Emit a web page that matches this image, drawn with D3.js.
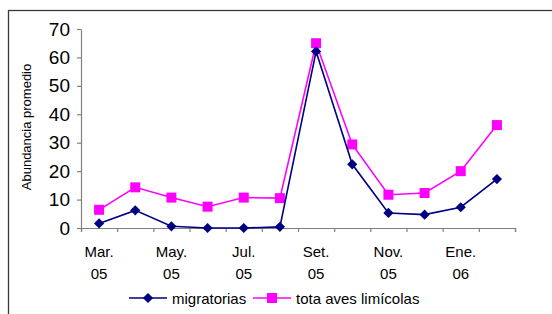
<!DOCTYPE html>
<html>
<head>
<meta charset="utf-8">
<script src="https://cdn.jsdelivr.net/npm/d3@7"></script>
<style>
  body { margin:0; background:#fff; }
  svg { display:block; font-family:"Liberation Sans", Arial, sans-serif; }
</style>
</head>
<body>
<svg id="chart" width="552" height="314"></svg>
<script>
// -- data
var months = ["Mar.","Abr.","May.","Jun.","Jul.","Ago.","Set.","Oct.","Nov.","Dic.","Ene.","Feb."];
var years  = ["05","05","05","05","05","05","05","05","05","05","06","06"];
var migratorias = [1.6, 6.2, 0.6, 0, 0, 0.4, 62.1, 22.4, 5.3, 4.7, 7.3, 17.2];
var totaLimicolas = [6.4, 14.3, 10.7, 7.5, 10.7, 10.5, 65, 29.4, 11.7, 12.3, 20, 36.2];
var yTicks = [0,10,20,30,40,50,60,70];

var svg = d3.select("#chart");

// outer frame (cut off by the picture edge on right/bottom)
svg.append("rect").attr("x",8.5).attr("y",10.5).attr("width",600).attr("height",400)
    .style("fill","none").style("stroke","#3a3a3a").style("stroke-width",1.3);

var x0 = 81, x1 = 515, yBase = 228, yTop = 29;

var x = d3.scaleBand().domain(d3.range(months.length)).range([x0,x1]).padding(0);
var xIdx = d3.scaleLinear().domain([0,months.length]).range([x0,x1]);
var y = d3.scaleLinear().domain([0,70]).range([yBase,yTop]);

// -- y axis
var yAxis = svg.append("g").attr("transform","translate("+x0+",0)")
    .call(d3.axisLeft(y).tickValues(yTicks).tickSize(4).tickPadding(7).tickSizeOuter(0));
yAxis.selectAll("text").style("font-size","19px").style("fill","#000");

// -- x axis, ticks on category boundaries
var xAxis = svg.append("g").attr("transform","translate(0,"+yBase+")")
    .call(d3.axisBottom(xIdx).ticks(months.length).tickSize(4).tickFormat("").tickSizeOuter(4));

svg.selectAll(".domain, .tick line").style("stroke","#808080").style("stroke-width",1.2);

// category labels, every second month, two lines
var lab = svg.selectAll(".catLabel").data(d3.range(0,months.length,2)).enter().append("text")
    .attr("class","catLabel")
    .attr("text-anchor","middle")
    .style("font-size","15px");
lab.append("tspan").attr("x",function(d){return x(d)+x.bandwidth()/2;}).attr("y",257)
    .text(function(d){return months[d];});
lab.append("tspan").attr("x",function(d){return x(d)+x.bandwidth()/2;}).attr("y",279)
    .text(function(d){return years[d];});

// y title
svg.append("text").attr("transform","translate(31,127) rotate(-90)")
    .attr("text-anchor","middle").style("font-size","13px")
    .text("Abundancia promedio");

// -- series (diamond = square turned 45deg)
var series = [
    {name:"tota aves limícolas", values:totaLimicolas, color:"#ff00ff", size:100, rot:0},
    {name:"migratorias", values:migratorias, color:"#000080", size:52, rot:45}
];

var line = d3.line()
    .x(function(d,i){return x(i)+x.bandwidth()/2;})
    .y(function(d){return y(d);});

series.forEach(function(s){
    svg.append("path").datum(s.values).attr("d",line)
        .style("fill","none").style("stroke",s.color).style("stroke-width",1.6);
    svg.selectAll(null).data(s.values).enter().append("path")
        .attr("d",d3.symbol().type(d3.symbolSquare).size(s.size))
        .attr("transform",function(d,i){return "translate("+(x(i)+x.bandwidth()/2)+","+y(d)+") rotate("+s.rot+")";})
        .style("fill",s.color);
});

// -- legend
var legendItems = [
    {name:"migratorias", color:"#000080", size:52, rot:45, x:129},
    {name:"tota aves limícolas", color:"#ff00ff", size:100, rot:0, x:253}
];
var lg = svg.selectAll(".legend").data(legendItems).enter().append("g")
    .attr("class","legend")
    .attr("transform",function(d){return "translate("+d.x+",298)";});
lg.append("line").attr("x1",0).attr("x2",38).attr("y1",0).attr("y2",0)
    .style("stroke",function(d){return d.color;}).style("stroke-width",1.6);
lg.append("path")
    .attr("d",function(d){return d3.symbol().type(d3.symbolSquare).size(d.size)();})
    .attr("transform",function(d){return "translate(19,0) rotate("+d.rot+")";})
    .style("fill",function(d){return d.color;});
lg.append("text").attr("x",43).attr("y",5.5).style("font-size","15px")
    .text(function(d){return d.name;});
</script>
</body>
</html>
